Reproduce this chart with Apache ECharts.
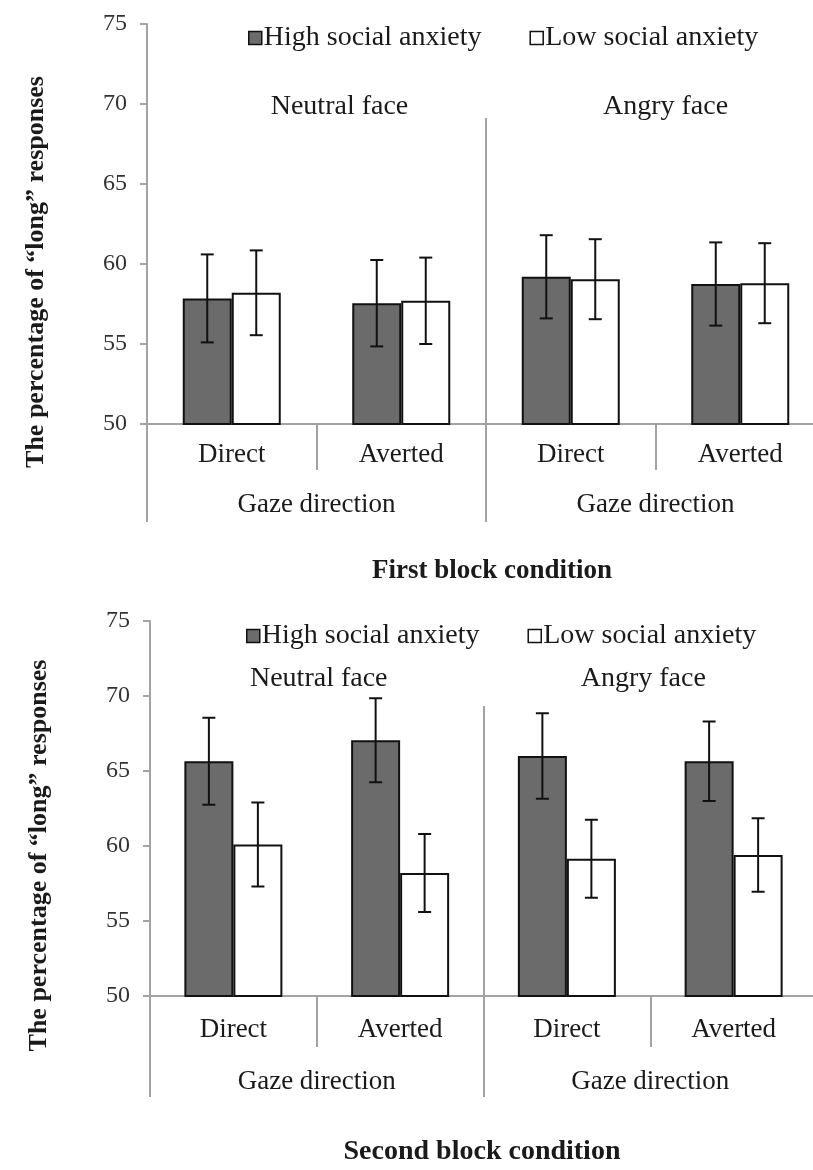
<!DOCTYPE html>
<html>
<head>
<meta charset="utf-8">
<script src="https://cdn.jsdelivr.net/npm/echarts@6/dist/echarts.min.js"></script>
<style>html,body{margin:0;padding:0;background:#fff}#c{width:813px;height:1170px}</style>
</head>
<body>
<div id="c"></div>
<script>
// ---- data ----
const gazeCategories = ['Direct', 'Averted', 'Direct', 'Averted'];
const faceCategories = ['Neutral face', 'Angry face'];
const gazeGroupLabels = ['Gaze direction', 'Gaze direction'];
const seriesNames = ['High social anxiety', 'Low social anxiety'];
const yTicks = { min: 50, max: 75, step: 5 };

// First block condition
const firstHigh = [57.85, 57.55, 59.2, 58.75];
const firstHighErr = [2.75, 2.7, 2.6, 2.6];
const firstLow = [58.2, 57.7, 59.05, 58.8];
const firstLowErr = [2.65, 2.7, 2.5, 2.5];

// Second block condition
const secondHigh = [65.65, 67.05, 66.0, 65.65];
const secondHighErr = [2.9, 2.8, 2.85, 2.65];
const secondLow = [60.1, 58.2, 59.15, 59.4];
const secondLowErr = [2.8, 2.6, 2.6, 2.45];

// ---- styles ----
const FONT = '"Liberation Serif", "Times New Roman", serif';
const TXT = '#1a1a1a';
const AX = '#a3a3a3';
const DARK = '#6b6b6b';
const BAR_W = 49;
const CAP = 13;

function errData(vals, errs) {
  return vals.map((v, i) => [i, v - errs[i], v + errs[i]]);
}
function errRender(sign) {
  return function (params, api) {
    const i = api.value(0);
    const p1 = api.coord([i, api.value(1)]);
    const p2 = api.coord([i, api.value(2)]);
    const x = p1[0] + sign * BAR_W / 2;
    const st = { stroke: '#111', lineWidth: 2 };
    return {
      type: 'group',
      children: [
        { type: 'line', shape: { x1: x, y1: p1[1], x2: x, y2: p2[1] }, style: st },
        { type: 'line', shape: { x1: x - CAP / 2, y1: p1[1], x2: x + CAP / 2, y2: p1[1] }, style: st },
        { type: 'line', shape: { x1: x - CAP / 2, y1: p2[1], x2: x + CAP / 2, y2: p2[1] }, style: st }
      ]
    };
  };
}

// horizontal nudges of the face labels (style only)
function faceLabel(shifts) {
  const rich = {};
  shifts.forEach((s, i) => {
    rich['f' + i] = {
      fontFamily: FONT, fontSize: 28, color: TXT,
      padding: s >= 0 ? [0, 0, 0, 2 * s] : [0, -2 * s, 0, 0]
    };
  });
  return {
    fontFamily: FONT, fontSize: 28, color: TXT, margin: 2,
    formatter: (v, i) => '{f' + i + '|' + v + '}',
    rich
  };
}

function makeAxes(g, cfg) {
  const xs = [
    { // main category axis
      type: 'category', gridIndex: g, data: gazeCategories, position: 'bottom',
      axisLine: { show: true, lineStyle: { color: AX, width: 2 } },
      axisTick: { show: true, length: cfg.shortTick, lineStyle: { color: AX, width: 2 } },
      axisLabel: { fontFamily: FONT, fontSize: 27, color: TXT, margin: cfg.catMargin }
    },
    { // tall divider rising into the plot
      type: 'category', gridIndex: g, data: ['', ''], position: 'bottom',
      axisLine: { show: false },
      axisTick: { show: true, inside: true, length: cfg.tallUp, lineStyle: { color: AX, width: 2 } },
      axisLabel: { show: false }
    },
    { // gaze direction group labels with long ticks downward
      type: 'category', gridIndex: g, data: gazeGroupLabels, position: 'bottom',
      axisLine: { show: false },
      axisTick: { show: true, length: cfg.tallDown, lineStyle: { color: AX, width: 2 } },
      axisLabel: { fontFamily: FONT, fontSize: 27, color: TXT, margin: cfg.groupMargin }
    },
    { // face labels inside plot
      type: 'category', gridIndex: g, data: faceCategories, position: 'top', offset: cfg.faceOffset,
      axisLine: { show: false }, axisTick: { show: false },
      axisLabel: faceLabel(cfg.faceShift)
    }
  ];
  const y = {
    type: 'value', gridIndex: g, min: yTicks.min, max: yTicks.max, interval: yTicks.step,
    axisLine: { show: true, lineStyle: { color: AX, width: 2 } },
    axisTick: { show: true, length: 7, lineStyle: { color: AX, width: 2 } },
    splitLine: { show: false },
    axisLabel: { fontFamily: FONT, fontSize: 24, color: '#333', margin: 20 },
    name: 'The percentage of \u201Clong\u201D responses',
    nameLocation: 'middle', nameRotate: 90, nameGap: cfg.nameGap,
    nameTextStyle: { fontFamily: FONT, fontSize: 26, fontWeight: 'bold', color: TXT, padding: [0, cfg.namePad, 0, 0] }
  };
  return { xs, y };
}

const a0 = makeAxes(0, { shortTick: 46, tallUp: 306, tallDown: 98, catMargin: 17, groupMargin: 67, faceOffset: -99, faceShift: [23, 10], nameGap: 98, namePad: 96 });
const a1 = makeAxes(1, { shortTick: 51, tallUp: 290, tallDown: 101, catMargin: 20, groupMargin: 72, faceOffset: -74, faceShift: [2, -7], nameGap: 98, namePad: 94 });

function barSeries(name, data, xi, yi, color) {
  return {
    type: 'bar', name, data, xAxisIndex: xi, yAxisIndex: yi,
    barWidth: BAR_W, barGap: '0%',
    itemStyle: { color, borderColor: '#111', borderWidth: 2 },
    emphasis: { disabled: true }
  };
}
function errSeries(data, xi, yi, sign) {
  return {
    type: 'custom', data, xAxisIndex: xi, yAxisIndex: yi, z: 5,
    encode: { x: 0, y: [1, 2] },
    renderItem: errRender(sign), silent: true
  };
}

const legendBase = {
  data: seriesNames, itemWidth: 13, itemHeight: 13, itemGap: 48, icon: 'rect',
  itemStyle: { borderColor: '#111', borderWidth: 1.5 },
  textStyle: { fontFamily: FONT, fontSize: 28, color: TXT, padding: [0, 0, 0, -3] }
};

const option = {
  animation: false,
  backgroundColor: '#fff',
  title: [
    { text: 'First block condition', left: 487, textAlign: 'center', top: 553,
      textStyle: { fontFamily: FONT, fontSize: 27, fontWeight: 'bold', color: TXT } },
    { text: 'Second block condition', left: 477, textAlign: 'center', top: 1133,
      textStyle: { fontFamily: FONT, fontSize: 28, fontWeight: 'bold', color: TXT } }
  ],
  legend: [
    Object.assign({}, legendBase, { left: 243, top: 19 }),
    Object.assign({}, legendBase, { left: 241, top: 617 })
  ],
  grid: [
    { left: 147, top: 24, width: 678, height: 400, outerBoundsMode: 'none' },
    { left: 150, top: 621, width: 667, height: 375, outerBoundsMode: 'none' }
  ],
  xAxis: a0.xs.concat(a1.xs.map(x => Object.assign({}, x))),
  yAxis: [a0.y, a1.y],
  series: [
    barSeries(seriesNames[0], firstHigh, 0, 0, DARK),
    barSeries(seriesNames[1], firstLow, 0, 0, '#fff'),
    errSeries(errData(firstHigh, firstHighErr), 0, 0, -1),
    errSeries(errData(firstLow, firstLowErr), 0, 0, 1),
    barSeries(seriesNames[0], secondHigh, 4, 1, DARK),
    barSeries(seriesNames[1], secondLow, 4, 1, '#fff'),
    errSeries(errData(secondHigh, secondHighErr), 4, 1, -1),
    errSeries(errData(secondLow, secondLowErr), 4, 1, 1)
  ]
};

const chart = echarts.init(document.getElementById('c'), null, { renderer: 'canvas' });
chart.setOption(option);
</script>
</body>
</html>
